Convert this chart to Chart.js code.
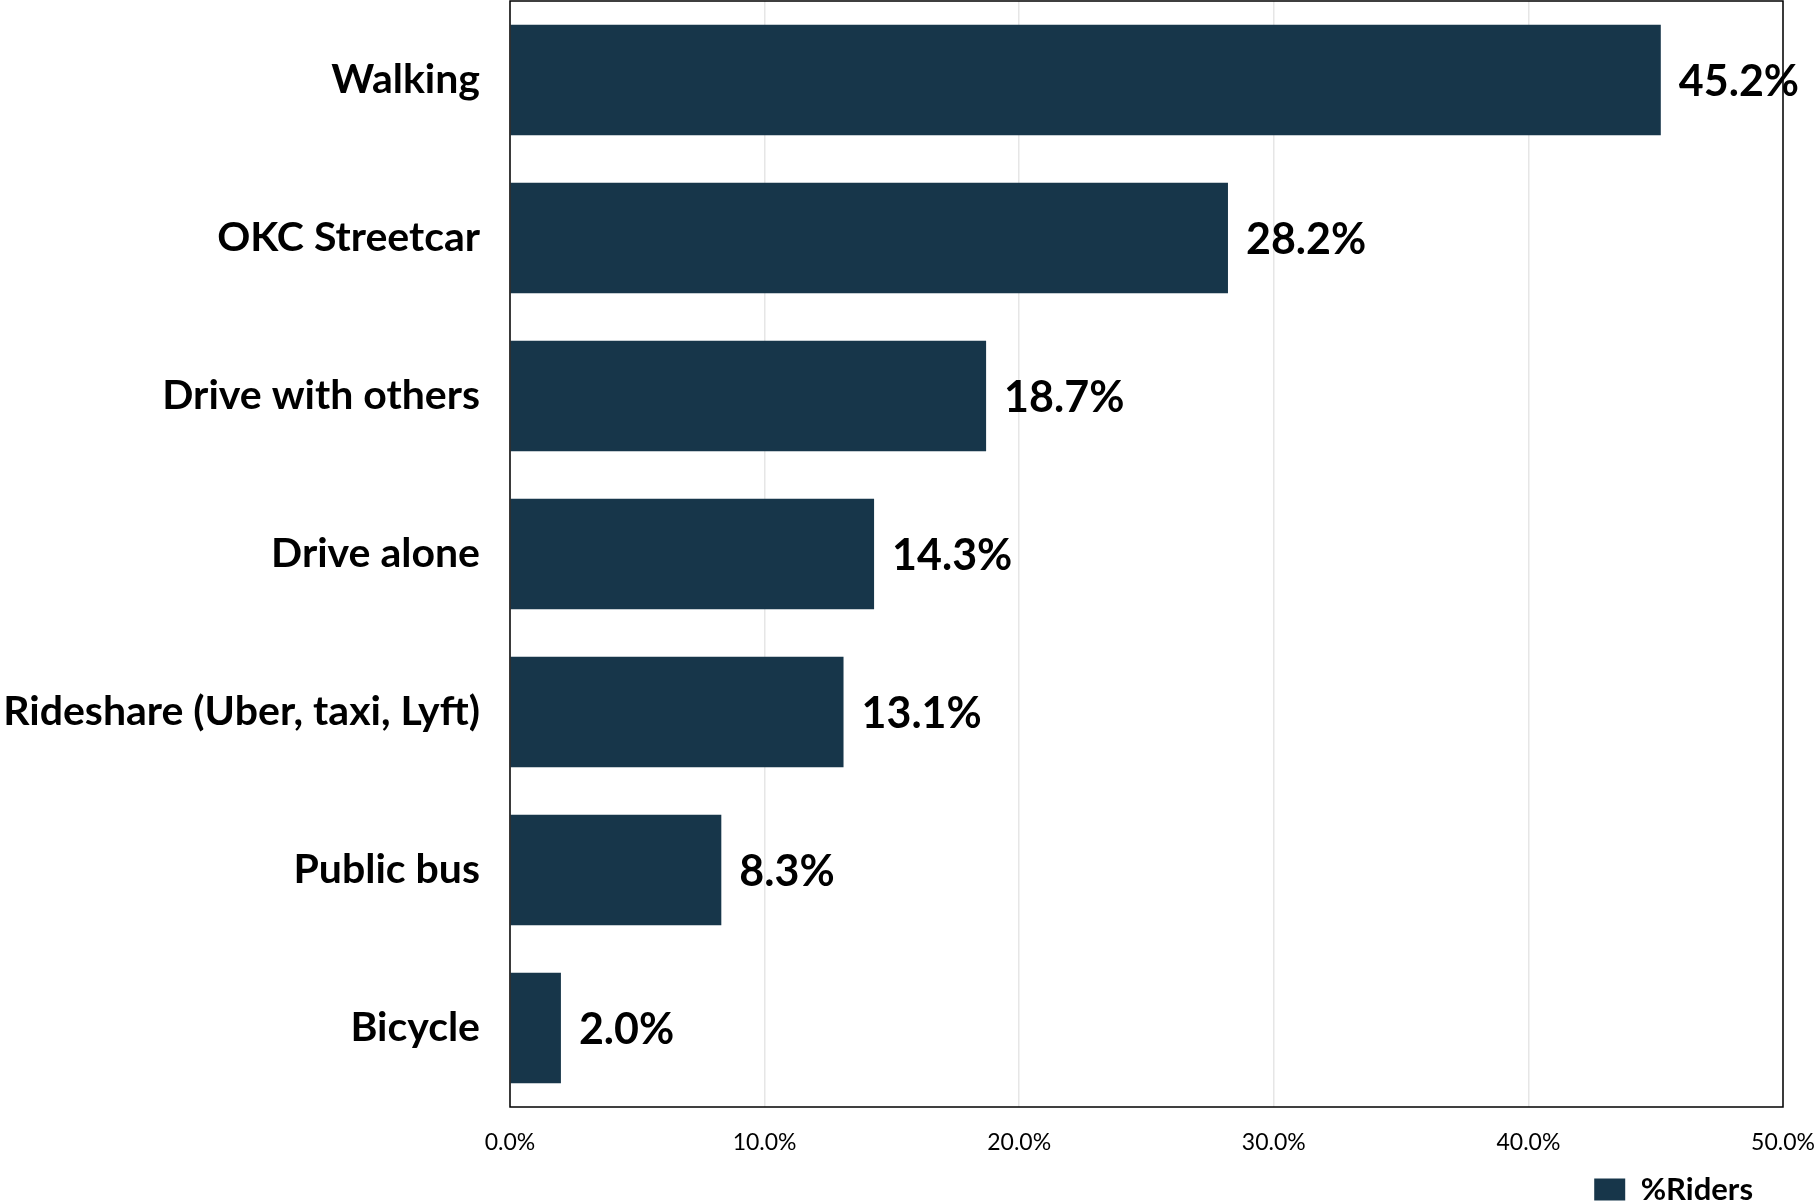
<!DOCTYPE html>
<html>
<head>
<meta charset="utf-8">
<script src="https://cdn.jsdelivr.net/npm/chart.js@4"></script>
<style>
  html, body { margin: 0; padding: 0; background: #fff; }
  #wrap { width: 1818px; height: 1204px; }
</style>
</head>
<body>
<div id="wrap"><canvas id="grafico" width="1818" height="1204"></canvas></div>
<script>
var modos = ['Walking', 'OKC Streetcar', 'Drive with others', 'Drive alone',
             'Rideshare (Uber, taxi, Lyft)', 'Public bus', 'Bicycle'];
var riders = [45.2, 28.2, 18.7, 14.3, 13.1, 8.3, 2.0];
var ticksX = [0, 10, 20, 30, 40, 50];

var FONTE = "Lato, 'Open Sans', sans-serif";
var AZUL = '#17364a';

// values written just past the end of each bar
var rotulos = {
    id: 'rotulos',
    afterDatasetsDraw: function(chart){
        var ctx = chart.ctx;
        var meta = chart.getDatasetMeta(0);
        ctx.save();
        ctx.font = 'bold 43px ' + FONTE;
        ctx.fillStyle = '#000';
        ctx.textBaseline = 'middle';
        ctx.textAlign = 'left';
        meta.data.forEach(function(bar, i){
            ctx.fillText(riders[i].toFixed(1) + '%', bar.x + 18, bar.y + 2);
        });
        ctx.restore();
    }
};

// black frame round the plot area
var moldura = {
    id: 'moldura',
    afterDraw: function(chart){
        var a = chart.chartArea, ctx = chart.ctx;
        ctx.save();
        ctx.strokeStyle = '#000';
        ctx.lineWidth = 1.5;
        ctx.strokeRect(a.left, a.top, a.right - a.left, a.bottom - a.top);
        ctx.restore();
    }
};

// nudge the legend in from the right edge and down a bit
var legendaDesloc = {
    id: 'legendaDesloc',
    afterLayout: function(chart){
        var lg = chart.legend;
        if (!lg) return;
        lg.right -= 30;
        lg.top += 11;
        lg.bottom += 11;
    }
};

window.onload = function(){
    var contexto = document.getElementById('grafico').getContext('2d');
    new Chart(contexto, {
        type: 'bar',
        data: {
            labels: modos,
            datasets: [{
                label: '%Riders',
                data: riders,
                backgroundColor: AZUL,
                borderWidth: 0,
                categoryPercentage: 1.0,
                barPercentage: 0.7
            }]
        },
        options: {
            indexAxis: 'y',
            responsive: false,
            animation: false,
            layout: { padding: { top: 1, right: 35, left: 0, bottom: 0 } },
            scales: {
                x: {
                    min: 0,
                    max: 50,
                    afterBuildTicks: function(axis){
                        axis.ticks = ticksX.map(function(v){ return { value: v }; });
                    },
                    afterFit: function(axis){
                        axis.height = 56;
                        axis.paddingLeft = 0;
                        axis.paddingRight = 0;
                    },
                    grid: { color: '#e6e6e6', lineWidth: 1.5, drawTicks: false },
                    border: { display: false },
                    ticks: {
                        padding: 22,
                        color: '#000',
                        font: { family: FONTE, size: 23 },
                        callback: function(v){ return Number(v).toFixed(1) + '%'; }
                    }
                },
                y: {
                    afterFit: function(axis){
                        axis.width = 510;
                        axis.paddingTop = 0;
                        axis.paddingBottom = 0;
                    },
                    grid: { display: false, drawTicks: false },
                    border: { display: false },
                    ticks: {
                        padding: 30,
                        color: '#000',
                        font: { family: FONTE, size: 41, weight: 'bold' }
                    }
                }
            },
            plugins: {
                legend: {
                    position: 'bottom',
                    align: 'end',
                    labels: {
                        color: '#000',
                        boxWidth: 31,
                        boxHeight: 22,
                        padding: 0,
                        font: { family: FONTE, size: 31, weight: 'bold' }
                    }
                },
                tooltip: { enabled: false }
            }
        },
        plugins: [rotulos, moldura, legendaDesloc]
    });
};
</script>
</body>
</html>
